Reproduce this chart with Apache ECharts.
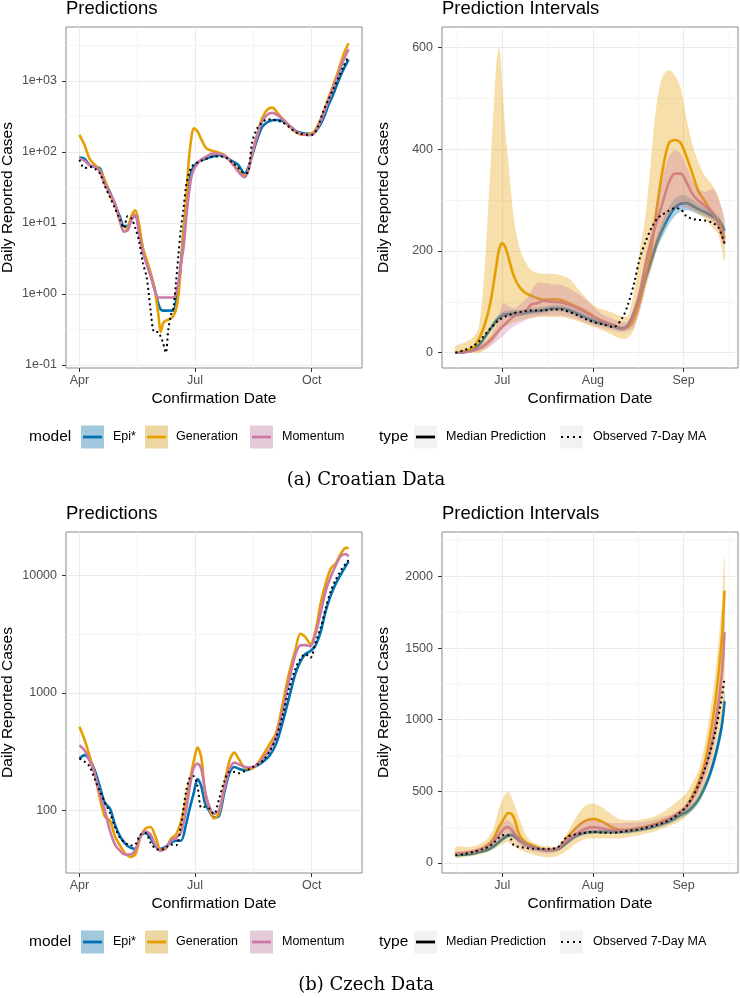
<!DOCTYPE html>
<html>
<head>
<meta charset="utf-8">
<script src="https://cdn.jsdelivr.net/npm/echarts@6.0.0/dist/echarts.min.js"></script>
<style>
  html, body { margin: 0; padding: 0; background: #fff; }
  #chart { width: 740px; height: 998px; }
</style>
</head>
<body>
<div id="chart"></div>
<script>
// ---------- data ----------
// Croatia, left panel: days after 2020-04-01
const hrPredDay = [0,4,8,12,16,20,24,28,32,35, 38,41,44,47,50,53,56,59,62,64, 66,68,70,72,74,76,78,80,82,84,
  86,88,90,93,96,100,105,110,115,120, 125,130,133,136,140,144,148,152,156,160, 165,170,175,180,184,188,192,196,200,204, 208,212];
const hrPredEpi = [83,80,65,62,59,38,27,18,12,9, 9,11.5,12.5,7.9,4.3,2.7,1.85,1.2,0.74,0.6, 0.58,0.58,0.58,0.58,0.58,0.77,1.3,2.8,7.8,18,
  33,52,62,71,76,81,86,90,85,75, 66,50,60,88,150,225,262,280,282,272, 238,200,185,180,182,215,290,450,650,1000, 1450,2000];
const hrPredGen = [174,125,80,66,55,40,25,18,10.5,7.5, 8.5,12.5,15,9.5,4.4,3.0,2.0,1.25,0.54,0.29, 0.39,0.42,0.43,0.45,0.49,0.6,0.95,2.6,7.5,20,
  70,150,215,195,150,112,103,97,88,70, 56,46,55,95,175,300,395,420,356,295, 235,192,175,176,185,240,350,560,880,1400, 2350,3400];
const hrPredMom = [81,75,65,62,53,35,26,19,10.5,7.6, 7.8,11,13,7,3.8,2.6,1.8,1.2,0.89,0.89, 0.89,0.89,0.89,0.89,0.89,1.0,1.45,2.7,4.5,11,
  24,43,56,68,78,86,95,94,87,70, 53,44,55,95,170,270,335,355,330,290, 240,198,178,172,176,225,330,520,800,1250, 1950,2800];
const hrPredObs = [77,59,62,58,50,33,23,16,11,8.4, 12.5,11.5,8.5,5.5,2.7,1.7,0.6,0.29,0.29,0.25, 0.2,0.148,0.31,0.5,0.63,1.4,3.6,8.5,16,33,
  48,60,66,71,75,80,86,86,84,72, 60,50,52,135,215,260,288,285,275,262, 225,190,178,174,176,230,370,540,770,1100, 1600,2250];

// Croatia, right panel: days after 2020-07-01
const hrIntDay = [-16,-13,-10,-8,-6,-4,-2,-1,0,1, 2,4,6,8,10,12,14,17,20,23, 26,29,32,35,38,41,43,45,47,49,
  51,53,55,57,59,61,63,65,67,69, 72,74,76];
const hrIntEpi = [0,1,6,15,30,47,63,69,73,75, 76,77,77,79,81,82,84,87,87,83, 76,68,61,56,52,47,54,78,105,147,
  183,218,245,268,285,293,294,289,282,277, 268,260,240];
const hrIntGen = [0,3,10,27,55,100,172,205,215,208, 190,150,128,117,112,107,104,105,104,97, 89,80,69,60,54,48,50,65,100,150,
  205,290,365,412,418,412,385,352,318,300, 272,258,225];
const hrIntMom = [0,1,4,8,15,25,38,45,51,56, 62,72,78,82,95,97,102,100,99,94, 87,78,68,61,54,47,54,78,118,175,
  222,260,298,335,352,352,335,312,299,290, 275,250,214];
const hrIntObs = [0,5,13,22,35,48,60,65,68,71, 73,78,80,82,83,83,83,85,85,80, 73,65,59,55,50,68,95,135,185,218,
  245,264,272,279,284,282,268,263,261,260, 255,245,215];
const hrIntEpiHi = [1,3,9,19,35,53,70,76,80,82, 83,84,84,86,88,89,91,94,94,90, 83,74,67,61,57,52,59,84,116,157,
  192,232,262,286,303,310,308,301,292,286, 276,268,247];
const hrIntEpiLo = [0,0,4,12,26,42,57,63,67,69, 70,71,71,73,75,76,78,81,81,77, 70,63,56,52,48,43,50,73,101,138,
  170,206,230,252,268,277,280,277,272,268, 261,253,233];
const hrIntGenHi = [13,20,30,50,170,370,570,600,531,440, 380,262,205,178,162,157,155,155,152,145, 125,105,90,84,78,71,72,120,200,270,
  390,498,545,555,545,520,460,410,375,350, 328,305,249];
const hrIntGenLo = [0,0,0,0,5,15,30,40,47,52, 55,60,63,66,68,70,70,70,70,67, 62,55,49,42,34,27,29,45,85,130,
  165,205,240,268,285,293,288,281,272,264, 245,230,179];
const hrIntMomHi = [1,3,8,14,22,33,55,75,95,97, 92,88,95,105,122,138,137,135,133,126, 116,102,86,73,66,60,62,90,130,190,
  245,300,350,385,398,390,368,340,322,316, 322,300,265];
const hrIntMomLo = [0,0,1,3,7,13,22,27,32,37, 43,52,58,64,68,71,73,73,73,70, 65,58,52,47,43,40,42,50,80,125,
  170,212,245,268,282,287,284,280,276,272, 258,245,212];

// Czech, left panel: days after 2020-04-01
const czPredDay = [0,4,8,12,16,20,24,28,32,36, 40,44,48,52,56,60,64,68,72,76, 80,84,87,90,93,96,99,102,106,110,
  114,118,122,126,130,135,140,145,150,155, 160,165,170,174,178,182,186,190,194,198, 202,206,210,212];
const czPredEpi = [276,295,270,220,160,115,104,75,60,52, 48,47,60,64,58,49,47,49,53,55, 55,76,105,140,185,160,114,100,87,90,
  140,205,234,225,219,228,240,262,295,370, 560,900,1450,1850,2150,2280,2550,3300,5000,6800, 8600,10300,12200,13200];
const czPredGen = [515,400,290,205,128,88,82,60,50,43, 40,42,59,70,72,59,46,47,57,62, 80,125,180,260,345,280,140,107,85,95,
  160,260,310,268,230,225,248,300,370,460, 800,1450,2300,3200,3000,2600,3400,5800,8600,11500, 12800,15500,17300,17200];
const czPredMom = [359,325,265,205,138,100,67,51,45,42, 42,46,60,66,62,50,45,48,55,58, 65,100,160,230,250,225,145,110,93,100,
  150,220,255,245,235,232,245,280,330,430, 700,1250,2100,2550,2560,2500,3200,4800,7400,9800, 12300,14800,15300,14600];
const czPredObs = [276,260,236,185,145,117,95,72,58,53, 50,51,62,64,53,47,46,48,51,50, 75,145,190,195,160,105,107,104,93,125,
  175,212,212,207,215,228,245,268,320,420, 640,1080,1600,1950,2150,2000,2700,3600,5300,7400, 9300,11100,12800,13600];

// Czech, right panel: days after 2020-07-01
const czIntDay = [-16,-13,-10,-7,-5,-3,-1,0,1,2, 3,4,6,8,10,13,16,19,22,25, 28,31,34,37,40,43,46,49,52,55,
  58,61,63,65,67,69,71,73,75,76];
const czIntEpi = [54,58,65,80,92,115,148,165,180,192, 195,188,155,130,112,95,89,95,140,185,
  210,217,217,217,217,220,230,240,255,275, 300,335,355,390,440,520,620,760,950,1130];
const czIntGen = [66,70,77,100,125,170,255,290,325,348, 345,315,190,145,125,100,89,100,175,240,
  290,308,290,255,232,232,243,255,270,295, 320,360,395,470,560,680,880,1150,1550,1900];
const czIntMom = [66,70,78,95,115,150,200,225,245,250, 235,210,162,130,115,98,90,105,158,200,
  235,250,242,230,228,230,238,250,265,285, 320,355,390,450,530,640,780,980,1300,1610];
const czIntObs = [54,62,77,95,110,140,178,192,195,194, 165,122,112,106,100,100,100,110,180,200,
  210,217,212,210,215,225,232,245,262,280, 310,355,395,460,540,640,770,930,1150,1290];
const czIntEpiHi = [62,66,74,90,104,128,162,180,196,208, 212,205,170,144,124,106,99,106,152,198,
  224,232,232,232,232,236,246,257,272,293, 320,357,380,418,470,555,660,810,1010,1200];
const czIntEpiLo = [47,51,57,71,82,103,134,150,165,177, 180,172,141,117,101,85,80,85,128,172,
  196,203,203,203,203,205,215,224,238,257, 281,314,332,364,412,488,583,715,895,1065];
const czIntGenHi = [112,112,115,140,170,240,390,440,480,497, 470,420,300,200,150,124,115,115,200,310,
  395,415,390,345,305,298,299,310,325,355, 400,450,490,560,640,800,1050,1350,1800,2150];
const czIntGenLo = [38,42,48,62,75,95,118,130,142,147, 130,115,92,75,62,45,40,48,85,132,
  165,170,170,170,170,180,190,205,218,240, 265,295,330,370,420,510,640,800,1000,1150];
const czIntMomHi = [77,85,95,115,135,185,250,275,292,298, 280,260,185,145,125,107,102,110,180,250,
  299,300,292,280,278,280,282,290,300,320, 340,380,420,480,560,680,850,1080,1420,1720];
const czIntMomLo = [54,60,68,82,96,125,160,178,190,194, 180,165,125,98,82,72,66,80,124,170,
  200,215,212,206,208,215,225,238,250,268, 295,335,370,420,480,570,700,880,1200,1450];

// tick labels
const predTickDay = [0, 91, 183];
const predTickLabel = ['Apr', 'Jul', 'Oct'];
const intTickDay = [0, 31, 62];
const intTickLabel = ['Jul', 'Aug', 'Sep'];
const hrPredTicks = [0.1, 1, 10, 100, 1000];
const hrPredTickLabel = ['1e-01', '1e+00', '1e+01', '1e+02', '1e+03'];
const czPredTicks = [100, 1000, 10000];
const czPredTickLabel = ['100', '1000', '10000'];
const hrIntTicks = [0, 200, 400, 600];
const czIntTicks = [0, 500, 1000, 1500, 2000];

const modelNames = ['Epi*', 'Generation', 'Momentum'];
const modelColors = ['#0072B2', '#E69F00', '#CC79A7'];
const bandColors = ['rgba(0,114,178,0.33)', 'rgba(230,159,0,0.33)', 'rgba(204,121,167,0.33)'];

const FONT = 'Liberation Sans, Arial, sans-serif';

// ---------- helpers ----------
function pickLabel(ticks, labels) {
  return v => {
    const i = ticks.findIndex(t => Math.abs(t - v) < 1e-6);
    return i < 0 ? '' : labels[i];
  };
}

function xAxisOpt(g, min, max, step, ticks, labels) {
  return {
    type: 'value', gridIndex: g, min: min, max: max,
    minInterval: step, maxInterval: step,
    axisLine: { show: false, onZero: false },
    axisTick: { show: true, length: 4, customValues: ticks, lineStyle: { color: '#333', width: 1 } },
    axisLabel: { customValues: ticks, margin: 6.5, color: '#4d4d4d', fontSize: 12.5, fontFamily: FONT,
      formatter: pickLabel(ticks, labels) },
    splitLine: { show: true, lineStyle: { color: '#ebebeb', width: 1.1 } },
    minorTick: { show: false, splitNumber: 2 },
    minorSplitLine: { show: true, lineStyle: { color: '#f1f1f1', width: 0.7 } },
    name: 'Confirmation Date', nameLocation: 'middle', nameGap: 22.5,
    nameTextStyle: { fontSize: 15.5, color: '#000', fontFamily: FONT }
  };
}

function yAxisOpt(g, min, max, step, ticks, labels) {
  return {
    type: 'value', gridIndex: g, min: min, max: max,
    minInterval: step, maxInterval: step,
    axisLine: { show: false, onZero: false },
    axisTick: { show: true, length: 4, customValues: ticks, lineStyle: { color: '#333', width: 1 } },
    axisLabel: { customValues: ticks, margin: 9, color: '#4d4d4d', fontSize: 12.5, fontFamily: FONT,
      formatter: pickLabel(ticks, labels) },
    splitLine: { show: true, lineStyle: { color: '#ebebeb', width: 1.1 } },
    minorTick: { show: false, splitNumber: 2 },
    minorSplitLine: { show: true, lineStyle: { color: '#f1f1f1', width: 0.7 } },
    name: 'Daily Reported Cases', nameLocation: 'middle', nameGap: 50,
    nameTextStyle: { fontSize: 15.5, color: '#000', fontFamily: FONT }
  };
}

function pts(days, vals, log) {
  return days.map((d, i) => [d, log ? Math.log10(vals[i]) : vals[i]]);
}

function modelLine(idx, g, days, vals, log) {
  return {
    name: modelNames[idx], type: 'line', xAxisIndex: g, yAxisIndex: g,
    data: pts(days, vals, log), symbol: 'none', smooth: 0.3, z: 2, silent: true,
    lineStyle: { color: modelColors[idx], width: 2.6 }, itemStyle: { color: modelColors[idx] }
  };
}

function observedLine(g, days, vals, log) {
  return {
    name: 'Observed 7-Day MA', type: 'line', xAxisIndex: g, yAxisIndex: g,
    data: pts(days, vals, log), symbol: 'none', smooth: 0.3, z: 4, silent: true,
    lineStyle: { color: '#000', width: 2, type: [2, 3.2] }, itemStyle: { color: '#000' }
  };
}

// prediction interval ribbon, drawn as a polygon through the axis scales
function band(idx, g, days, lo, hi) {
  return {
    name: modelNames[idx] + ' interval', type: 'custom', xAxisIndex: g, yAxisIndex: g,
    z: 3, silent: true, data: [[days[0], lo[0]]],
    renderItem: (params, api) => {
      const top = days.map((d, i) => api.coord([d, hi[i]]));
      const bot = days.map((d, i) => api.coord([d, lo[i]])).reverse();
      return {
        type: 'polygon',
        shape: { points: top.concat(bot), smooth: 0.3 },
        style: { fill: bandColors[idx] }
      };
    }
  };
}

// ---------- legend rows and captions (graphic) ----------
function legendRow(y) {
  const els = [];
  const txt = (x, t, size) => ({ type: 'text', x: x, y: y,
    style: { text: t, fontSize: size, fontFamily: FONT, fill: '#000', align: 'left', verticalAlign: 'middle' } });
  els.push(txt(29, 'model', 15.5));
  const keyX = [81, 145, 250];
  const textX = [113, 176, 282];
  modelNames.forEach((n, i) => {
    els.push({ type: 'rect', shape: { x: keyX[i], y: y - 11.5, width: 23, height: 23 }, style: { fill: '#f2f2f2' } });
    els.push({ type: 'rect', shape: { x: keyX[i], y: y - 11.5, width: 23, height: 23 }, style: { fill: bandColors[i] } });
    els.push({ type: 'line', shape: { x1: keyX[i] + 2, y1: y, x2: keyX[i] + 21, y2: y },
      style: { stroke: modelColors[i], lineWidth: 2.8 } });
    els.push(txt(textX[i], n, 12.5));
  });
  els.push(txt(379, 'type', 15.5));
  els.push({ type: 'rect', shape: { x: 414, y: y - 11.5, width: 23, height: 23 }, style: { fill: '#f2f2f2' } });
  els.push({ type: 'line', shape: { x1: 416, y1: y, x2: 435, y2: y }, style: { stroke: '#000', lineWidth: 2.8 } });
  els.push(txt(446, 'Median Prediction', 12.5));
  els.push({ type: 'rect', shape: { x: 560, y: y - 11.5, width: 23, height: 23 }, style: { fill: '#f2f2f2' } });
  els.push({ type: 'line', shape: { x1: 561, y1: y, x2: 583, y2: y },
    style: { stroke: '#000', lineWidth: 2.2, lineDash: [2, 4] } });
  els.push(txt(593, 'Observed 7-Day MA', 12.5));
  return els;
}

function caption(y, t) {
  return { type: 'text', x: 366, y: y,
    style: { text: t, fontSize: 18, fontFamily: 'DejaVu Serif', fill: '#000', align: 'center', verticalAlign: 'middle' } };
}

// ---------- chart ----------
const chart = echarts.init(document.getElementById('chart'), null, { renderer: 'canvas' });

const titleStyle = { fontSize: 18.5, fontWeight: 'normal', color: '#000', fontFamily: FONT };
const gridBase = { show: true, borderColor: '#8a8a8a', borderWidth: 1, backgroundColor: '#fff', containLabel: false, outerBoundsMode: 'none' };

const log10 = v => Math.log10(v);

const option = {
  animation: false,
  backgroundColor: '#fff',
  title: [
    { text: 'Predictions', left: 66, top: -1, padding: 0, textStyle: titleStyle },
    { text: 'Prediction Intervals', left: 442, top: -1, padding: 0, textStyle: titleStyle },
    { text: 'Predictions', left: 66, top: 504, padding: 0, textStyle: titleStyle },
    { text: 'Prediction Intervals', left: 442, top: 504, padding: 0, textStyle: titleStyle }
  ],
  grid: [
    Object.assign({ left: 66, top: 27, width: 296, height: 341 }, gridBase),
    Object.assign({ left: 442, top: 27, width: 296, height: 341 }, gridBase),
    Object.assign({ left: 66, top: 532, width: 296, height: 341 }, gridBase),
    Object.assign({ left: 442, top: 532, width: 296, height: 341 }, gridBase)
  ],
  xAxis: [
    xAxisOpt(0, -10.6, 222.6, 91.5, predTickDay, predTickLabel),
    xAxisOpt(1, -20.6, 80.6, 31, intTickDay, intTickLabel),
    xAxisOpt(2, -10.6, 222.6, 91.5, predTickDay, predTickLabel),
    xAxisOpt(3, -20.6, 80.6, 31, intTickDay, intTickLabel)
  ],
  yAxis: [
    yAxisOpt(0, -1.045, 3.76, 1, hrPredTicks.map(log10), hrPredTickLabel),
    yAxisOpt(1, -30, 640, 200, hrIntTicks, hrIntTicks.map(String)),
    yAxisOpt(2, 1.465, 4.373, 1, czPredTicks.map(log10), czPredTickLabel),
    yAxisOpt(3, -70, 2310, 500, czIntTicks, czIntTicks.map(String))
  ],
  graphic: { elements: legendRow(437).concat(legendRow(942), [
    caption(480, '(a) Croatian Data'),
    caption(985, '(b) Czech Data')
  ]) },
  series: [
    // Croatia predictions (log scale)
    modelLine(0, 0, hrPredDay, hrPredEpi, true),
    modelLine(1, 0, hrPredDay, hrPredGen, true),
    modelLine(2, 0, hrPredDay, hrPredMom, true),
    observedLine(0, hrPredDay, hrPredObs, true),
    // Croatia intervals
    modelLine(0, 1, hrIntDay, hrIntEpi, false),
    modelLine(1, 1, hrIntDay, hrIntGen, false),
    modelLine(2, 1, hrIntDay, hrIntMom, false),
    band(0, 1, hrIntDay, hrIntEpiLo, hrIntEpiHi),
    band(1, 1, hrIntDay, hrIntGenLo, hrIntGenHi),
    band(2, 1, hrIntDay, hrIntMomLo, hrIntMomHi),
    observedLine(1, hrIntDay, hrIntObs, false),
    // Czech predictions (log scale)
    modelLine(0, 2, czPredDay, czPredEpi, true),
    modelLine(1, 2, czPredDay, czPredGen, true),
    modelLine(2, 2, czPredDay, czPredMom, true),
    observedLine(2, czPredDay, czPredObs, true),
    // Czech intervals
    modelLine(0, 3, czIntDay, czIntEpi, false),
    modelLine(1, 3, czIntDay, czIntGen, false),
    modelLine(2, 3, czIntDay, czIntMom, false),
    band(0, 3, czIntDay, czIntEpiLo, czIntEpiHi),
    band(1, 3, czIntDay, czIntGenLo, czIntGenHi),
    band(2, 3, czIntDay, czIntMomLo, czIntMomHi),
    observedLine(3, czIntDay, czIntObs, false)
  ]
};

chart.setOption(option);
</script>
</body>
</html>
